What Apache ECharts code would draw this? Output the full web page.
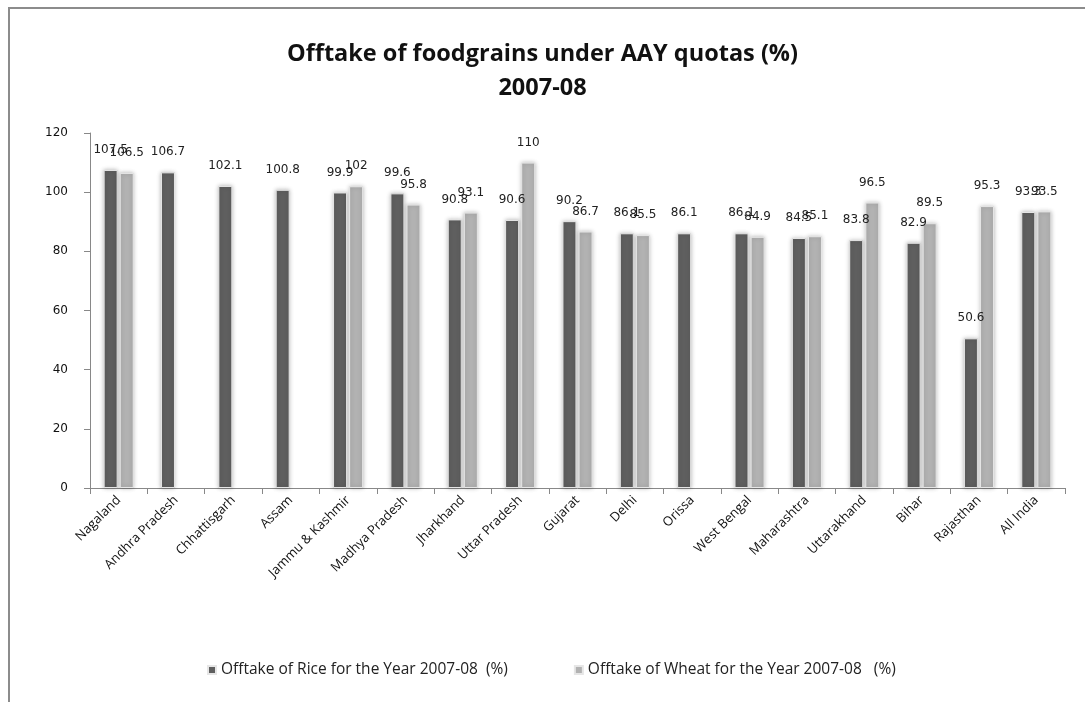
<!DOCTYPE html>
<html><head><meta charset="utf-8">
<script src="https://cdn.jsdelivr.net/npm/echarts@6/dist/echarts.min.js"></script>
<style>html,body{margin:0;padding:0;background:#fff}#c{width:1085px;height:702px}</style>
</head><body><div id="c"></div>
<script>
const categories = ["Nagaland","Andhra Pradesh","Chhattisgarh","Assam","Jammu & Kashmir","Madhya Pradesh","Jharkhand","Uttar Pradesh","Gujarat","Delhi","Orissa","West Bengal","Maharashtra","Uttarakhand","Bihar","Rajasthan","All India"];
const riceValues = [107.5,106.7,102.1,100.8,99.9,99.6,90.8,90.6,90.2,86.1,86.1,86.1,84.5,83.8,82.9,50.6,93.3];
const wheatValues = [106.5,null,null,null,102,95.8,93.1,110,86.7,85.5,null,84.9,85.1,96.5,89.5,95.3,93.5];
const yTicks = {min:0, max:120, interval:20};
const seriesNames = ["Offtake of Rice for the Year 2007-08  (%)","Offtake of Wheat for the Year 2007-08   (%)"];

const chart = echarts.init(document.getElementById('c'));
const labelStyle = {show:true, position:'top', distance:14, color:'#222', fontFamily:'DejaVu Sans', fontSize:12};
chart.setOption({
  animation:false,
  backgroundColor:'#fff',
  graphic:[{type:'rect', shape:{x:9,y:8,width:1100,height:800}, style:{fill:'none', stroke:'#8c8c8c', lineWidth:2}}],
  title:{text:'Offtake of foodgrains under AAY quotas (%)\n2007-08', left:'center', top:32,
    textStyle:{fontFamily:'Open Sans', fontWeight:'bold', fontSize:23.5, lineHeight:34, color:'#111'}},
  legend:{top:657, left:202, itemWidth:8, itemHeight:8, itemGap:66, icon:'rect',
    textStyle:{fontFamily:'Open Sans', fontSize:15.5, color:'#222'}, data:seriesNames},
  grid:{left:90, right:20, top:133, bottom:214, containLabel:false},
  xAxis:{type:'category', data:categories,
    axisLine:{lineStyle:{color:'#888'}},
    axisTick:{show:true, alignWithLabel:false, length:6, lineStyle:{color:'#888'}},
    axisLabel:{rotate:45, interval:0, fontFamily:'Open Sans', fontSize:13, color:'#111', margin:10}},
  yAxis:{type:'value', min:yTicks.min, max:yTicks.max, interval:yTicks.interval,
    splitLine:{show:false},
    axisLine:{show:true, lineStyle:{color:'#888'}},
    axisTick:{show:true, length:6, lineStyle:{color:'#888'}},
    axisLabel:{fontFamily:'DejaVu Sans', fontSize:12, color:'#111', margin:22}},
  series:[
    {name:seriesNames[0], type:'bar', data:riceValues, barWidth:14, barGap:'15%',
      itemStyle:{color:'#5f5f5f', borderColor:'#e6e6e6', borderWidth:1, shadowBlur:4, shadowColor:'rgba(0,0,0,0.25)'},
      label:labelStyle},
    {name:seriesNames[1], type:'bar', data:wheatValues, barWidth:14,
      itemStyle:{color:'#b2b2b2', borderColor:'#e6e6e6', borderWidth:1, shadowBlur:4, shadowColor:'rgba(0,0,0,0.25)'},
      label:labelStyle}
  ]
});
</script></body></html>
